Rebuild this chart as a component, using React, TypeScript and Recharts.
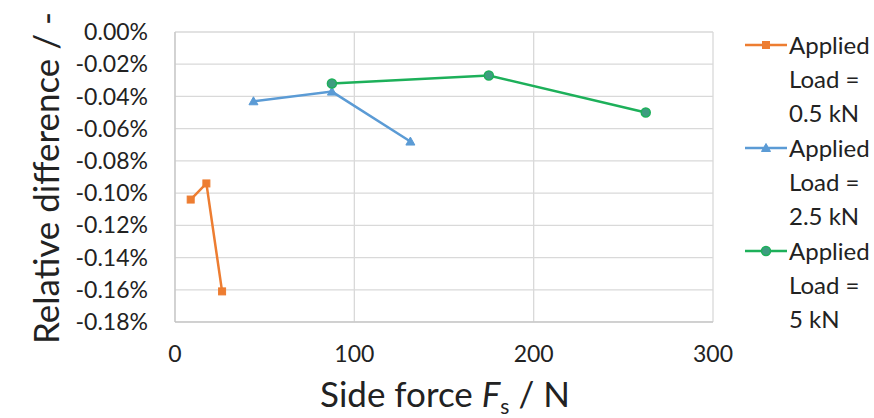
import React from "react";
import { CartesianGrid, Line, LineChart, XAxis, YAxis } from "recharts";

const FONT = "Lato, 'Open Sans', sans-serif";

// side force in N, relative difference in %
const load05 = [
  { x: 8.75, y: -0.104 },
  { x: 17.5, y: -0.094 },
  { x: 26.25, y: -0.161 },
];
const load25 = [
  { x: 43.75, y: -0.043 },
  { x: 87.5, y: -0.037 },
  { x: 131.25, y: -0.068 },
];
const load5 = [
  { x: 87.5, y: -0.032 },
  { x: 175, y: -0.027 },
  { x: 262.5, y: -0.050 },
];

const X_TICKS = [0, 100, 200, 300];
const Y_TICKS = [0, -0.02, -0.04, -0.06, -0.08, -0.1, -0.12, -0.14, -0.16, -0.18];

const SERIES = [
  { name: "Applied Load = 0.5 kN", lines: ["Applied", "Load =", "0.5 kN"], data: load05, color: "#ED7D31", marker: "square" },
  { name: "Applied Load = 2.5 kN", lines: ["Applied", "Load =", "2.5 kN"], data: load25, color: "#5B9BD5", marker: "triangle" },
  { name: "Applied Load = 5 kN", lines: ["Applied", "Load =", "5 kN"], data: load5, color: "#1DB05A", marker: "circle" },
];

function Marker({ kind, cx, cy, color }: { kind: string; cx: number; cy: number; color: string }) {
  if (kind === "square") {
    return <rect x={cx - 3.5} y={cy - 3.5} width={7} height={7} fill={color} stroke={color} />;
  }
  if (kind === "triangle") {
    return (
      <polygon
        points={`${cx},${cy - 4.5} ${cx + 4.5},${cy + 3.5} ${cx - 4.5},${cy + 3.5}`}
        fill={color}
        stroke={color}
      />
    );
  }
  return <circle cx={cx} cy={cy} r={4.5} fill="#3E9C80" stroke={color} strokeWidth={1.5} />;
}

function makeDot(kind: string, color: string) {
  return (props: any) => (
    <Marker key={`${kind}-${props.index}`} kind={kind} cx={props.cx} cy={props.cy} color={color} />
  );
}

function LegendBox() {
  return (
    <div
      style={{
        position: "absolute",
        left: 743,
        top: 28,
        width: 131,
        fontFamily: FONT,
        fontSize: 24,
        color: "#222",
      }}
    >
      {SERIES.map((s) => (
        <div key={s.name} style={{ display: "flex", alignItems: "flex-start", marginBottom: 1 }}>
          <svg width={46} height={34} style={{ flex: "none" }}>
            <line x1={2} y1={17} x2={44} y2={17} stroke={s.color} strokeWidth={2.5} />
            <Marker kind={s.marker} cx={23} cy={17} color={s.color} />
          </svg>
          <div style={{ lineHeight: "34px", whiteSpace: "nowrap" }}>
            {s.lines.map((t) => (
              <div key={t}>{t}</div>
            ))}
          </div>
        </div>
      ))}
    </div>
  );
}

function XTitle(props: any) {
  const vb = props.viewBox;
  const cx = vb.x + vb.width / 2 + 1;
  return (
    <text x={cx} y={407} textAnchor="middle" fontFamily={FONT} fontSize={35} fill="#222">
      Side force <tspan fontStyle="italic">F</tspan>
      <tspan fontSize={21} dy={7}>s</tspan>
      <tspan dy={-7}> / N</tspan>
    </text>
  );
}

function YTitle() {
  const cy = 178;
  return (
    <text
      x={45}
      y={cy}
      transform={`rotate(-90, 45, ${cy})`}
      textAnchor="middle"
      dominantBaseline="central"
      fontFamily={FONT}
      fontSize={35}
      fill="#222"
    >
      Relative difference / -
    </text>
  );
}

export default function App() {
  return (
    <div style={{ position: "fixed", left: 0, top: 0, width: 874, height: 418, background: "#fff" }}>
      <LineChart width={874} height={418} margin={{ top: 32, right: 161, bottom: 66, left: 0 }}>
        <CartesianGrid stroke="#d9d9d9" strokeWidth={1.3} />
        <XAxis
          type="number"
          dataKey="x"
          domain={[0, 300]}
          ticks={X_TICKS}
          tickSize={0}
          tickMargin={24}
          axisLine={{ stroke: "#bfbfbf" }}
          tick={{ fill: "#222", fontSize: 23, fontFamily: FONT }}
          label={<XTitle />}
          allowDuplicatedCategory={false}
        />
        <YAxis
          type="number"
          dataKey="y"
          width={175}
          domain={[-0.18, 0]}
          ticks={Y_TICKS}
          tickSize={0}
          tickMargin={27}
          axisLine={{ stroke: "#bfbfbf" }}
          tick={{ fill: "#222", fontSize: 23, fontFamily: FONT }}
          tickFormatter={(v: number) => `${v.toFixed(2)}%`}
          label={<YTitle />}
        />
        {SERIES.map((s) => (
          <Line
            key={s.name}
            name={s.name}
            data={s.data}
            dataKey="y"
            stroke={s.color}
            strokeWidth={2.5}
            dot={makeDot(s.marker, s.color)}
            activeDot={false}
            isAnimationActive={false}
          />
        ))}
      </LineChart>
      <LegendBox />
    </div>
  );
}
